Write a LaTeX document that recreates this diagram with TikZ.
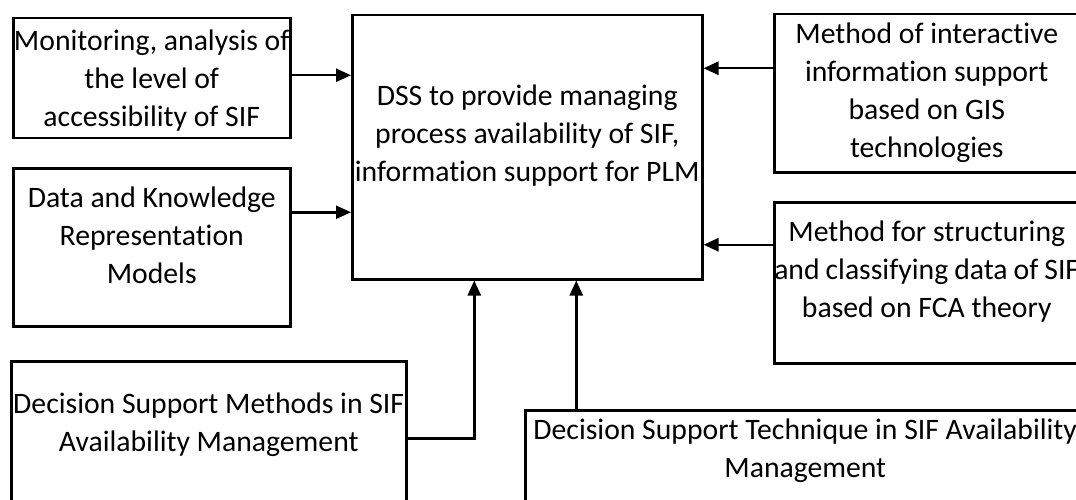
\documentclass[tikz,border=0pt]{standalone}
\usepackage{fontspec}
\setmainfont{Carlito}[Ligatures={TeX,NoCommon}]
\usetikzlibrary{arrows.meta,positioning}
\tikzset{
    box/.style={
        draw=black,line width=2.5pt,rectangle,anchor=north west,
        inner xsep=0pt,inner ysep=0pt,align=flush center,
        font=\fontsize{29.7}{38}\selectfont
    },
    arrow/.style={
        -{Triangle[length=15pt,width=13pt]},line width=2.5pt,draw=black
    }
}
\begin{document}
\begin{tikzpicture}[x=1pt,y=-1pt]
\useasboundingbox (0,0) rectangle (1076,500);
\clip (0,0) rectangle (1076,500);

\node[box,text width=277pt,text height=32pt,text depth=88pt]
(mon) at (12,17){Monitoring, analysis of\\the level of\\accessibility of SIF};

\node[box,text width=277pt,text height=39pt,text depth=119pt]
(dkr) at (12,167){Data and Knowledge\\Representation\\Models};

\node[box,text width=350pt,text height=90pt,text depth=174pt]
(dss) at (351,14){DSS to provide managing\\process availability of SIF,\\information support for PLM};

\node[box,text width=305pt,text height=29pt,text depth=129pt]
(gis) at (773,13){Method of interactive\\information support\\based on GIS\\technologies};

\node[box,text width=305pt,text height=39pt,text depth=122pt]
(fca) at (773,201){Method for structuring\\and classifying data of SIF\\based on FCA theory};

\node[box,text width=395pt,text height=52pt,text depth=108pt]
(dsm) at (10,360){Decision Support Methods in SIF\\Availability Management};

\node[box,text width=560pt,text height=29pt,text depth=95pt]
(dst) at (524,409){Decision Support Technique in SIF Availability\\Management};

% inputs from the left
\coordinate (monout) at ([yshift=3pt]mon.east);
\coordinate (dkrout) at ([yshift=35pt]dkr.east);
\draw[arrow] (monout) -- (monout -| dss.west);
\draw[arrow] (dkrout) -- (dkrout -| dss.west);

% inputs from the right
\coordinate (gisout) at ([yshift=25pt]gis.west);
\coordinate (fcaout) at ([yshift=38pt]fca.west);
\draw[arrow] (gisout) -- (gisout -| dss.east);
\draw[arrow] (fcaout) -- (fcaout -| dss.east);

% inputs from below
\coordinate (dsmout) at ([yshift=3pt]dsm.east);
\coordinate (dsmin) at ([xshift=-53pt]dss.south);
\coordinate (dstin) at ([xshift=49pt]dss.south);
\draw[arrow] (dsmout) -| (dsmin);
\draw[arrow] (dstin |- dst.north) -- (dstin);

\end{tikzpicture}
\end{document}
